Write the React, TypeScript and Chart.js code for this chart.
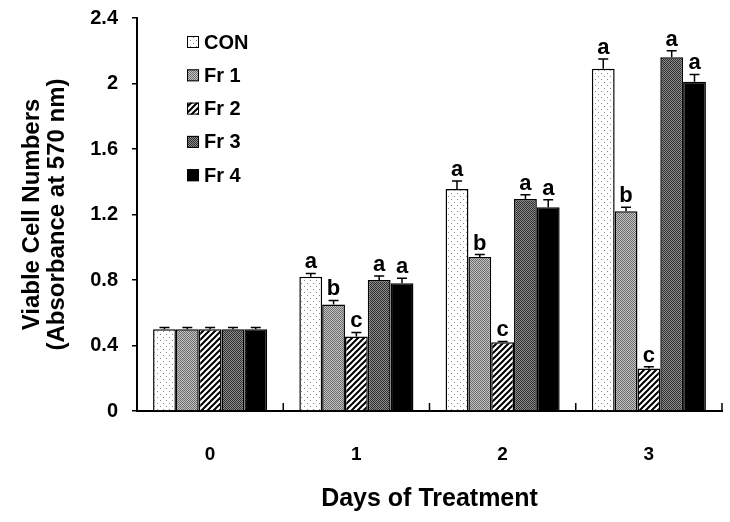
import React, { useEffect, useRef } from "react";
import { Chart, registerables } from "chart.js";

Chart.register(...registerables);

const categories = ["0", "1", "2", "3"];
const seriesNames = ["CON", "Fr 1", "Fr 2", "Fr 3", "Fr 4"];

const conValues = [0.5, 0.82, 1.355, 2.09];
const fr1Values = [0.5, 0.65, 0.94, 1.22];
const fr2Values = [0.5, 0.455, 0.42, 0.26];
const fr3Values = [0.5, 0.8, 1.295, 2.16];
const fr4Values = [0.5, 0.78, 1.245, 2.01];

const conErrors = [0.01, 0.02, 0.05, 0.06];
const fr1Errors = [0.01, 0.025, 0.015, 0.025];
const fr2Errors = [0.01, 0.025, 0.005, 0.01];
const fr3Errors = [0.01, 0.025, 0.025, 0.04];
const fr4Errors = [0.01, 0.03, 0.045, 0.045];

const conLetters = ["", "a", "a", "a"];
const fr1Letters = ["", "b", "b", "b"];
const fr2Letters = ["", "c", "c", "c"];
const fr3Letters = ["", "a", "a", "a"];
const fr4Letters = ["", "a", "a", "a"];

const yTickLabels = ["0", "0.4", "0.8", "1.2", "1.6", "2", "2.4"];
const yTitleLines = ["Viable Cell Numbers", "(Absorbance at 570 nm)"];
const xTitle = "Days of Treatment";

const FONT = "'Liberation Sans', Arial, Helvetica, sans-serif";

function makePattern(kind: string): CanvasPattern | string {
  const c = document.createElement("canvas");
  const ctx = c.getContext("2d")!;
  if (kind === "dots") {
    c.width = 6;
    c.height = 6;
    ctx.fillStyle = "#ffffff";
    ctx.fillRect(0, 0, 6, 6);
    ctx.fillStyle = "#8a8a8a";
    ctx.fillRect(1, 1, 1, 1);
    ctx.fillRect(4, 4, 1, 1);
  } else if (kind === "light") {
    c.width = 2;
    c.height = 2;
    ctx.fillStyle = "#c4c4c4";
    ctx.fillRect(0, 0, 2, 2);
    ctx.fillStyle = "#6c6c6c";
    ctx.fillRect(0, 0, 1, 1);
    ctx.fillRect(1, 1, 1, 1);
  } else if (kind === "hatch") {
    const s = 6;
    c.width = s;
    c.height = s;
    ctx.fillStyle = "#ffffff";
    ctx.fillRect(0, 0, s, s);
    ctx.strokeStyle = "#000000";
    ctx.lineWidth = 2;
    ctx.beginPath();
    ctx.moveTo(-1, s + 1);
    ctx.lineTo(s + 1, -1);
    ctx.moveTo(-1, 1);
    ctx.lineTo(1, -1);
    ctx.moveTo(s - 1, s + 1);
    ctx.lineTo(s + 1, s - 1);
    ctx.stroke();
  } else if (kind === "dark") {
    c.width = 2;
    c.height = 2;
    ctx.fillStyle = "#8c8c8c";
    ctx.fillRect(0, 0, 2, 2);
    ctx.fillStyle = "#2e2e2e";
    ctx.fillRect(0, 0, 1, 1);
    ctx.fillRect(1, 1, 1, 1);
  } else {
    return "#000000";
  }
  return ctx.createPattern(c, "repeat")!;
}

export default function App() {
  const ref = useRef<HTMLCanvasElement | null>(null);

  useEffect(() => {
    if (!ref.current) return;
    const fills = ["dots", "light", "hatch", "dark", "solid"].map(makePattern);
    const values = [conValues, fr1Values, fr2Values, fr3Values, fr4Values];
    const errors = [conErrors, fr1Errors, fr2Errors, fr3Errors, fr4Errors];
    const letters = [conLetters, fr1Letters, fr2Letters, fr3Letters, fr4Letters];

    const extrasPlugin = {
      id: "extras",
      afterDatasetsDraw(chart: any) {
        const ctx = chart.ctx;
        const yScale = chart.scales.y;
        const xScale = chart.scales.x;
        const area = chart.chartArea;
        ctx.save();
        chart.data.datasets.forEach((ds: any, i: number) => {
          const meta = chart.getDatasetMeta(i);
          meta.data.forEach((el: any, j: number) => {
            const v = values[i][j];
            const e = errors[i][j];
            const yTop = yScale.getPixelForValue(v + e);
            const yBar = yScale.getPixelForValue(v);
            ctx.strokeStyle = "#000";
            ctx.lineWidth = 1.5;
            ctx.beginPath();
            ctx.moveTo(el.x, yBar);
            ctx.lineTo(el.x, yTop);
            ctx.moveTo(el.x - 5, yTop);
            ctx.lineTo(el.x + 5, yTop);
            ctx.stroke();
            const t = letters[i][j];
            if (t) {
              ctx.fillStyle = "#000";
              ctx.font = `bold 22px ${FONT}`;
              ctx.textAlign = "center";
              ctx.textBaseline = "alphabetic";
              ctx.fillText(t, el.x, yTop - 5);
            }
          });
        });
        const half = (xScale.getPixelForValue(1) - xScale.getPixelForValue(0)) / 2;
        ctx.strokeStyle = "#000";
        ctx.lineWidth = 1.5;
        ctx.beginPath();
        categories.forEach((_, k) => {
          const bx = xScale.getPixelForValue(k) + half;
          ctx.moveTo(bx, area.bottom);
          ctx.lineTo(bx, area.bottom - 8);
        });
        ctx.stroke();
        const lx = area.left + 50;
        chart.data.datasets.forEach((ds: any, i: number) => {
          const cy = area.top + 24 + i * 33.3;
          ctx.fillStyle = ds.backgroundColor;
          ctx.fillRect(lx, cy - 6, 12, 12);
          ctx.strokeStyle = "#000";
          ctx.lineWidth = 1;
          ctx.strokeRect(lx + 0.5, cy - 5.5, 11, 11);
          ctx.fillStyle = "#000";
          ctx.font = `bold 20px ${FONT}`;
          ctx.textAlign = "left";
          ctx.textBaseline = "middle";
          ctx.fillText(ds.label, lx + 17, cy + 1);
        });
        ctx.restore();
      },
    };

    const chart = new Chart(ref.current, {
      type: "bar",
      data: {
        labels: categories,
        datasets: seriesNames.map((name, i) => ({
          label: name,
          data: values[i],
          backgroundColor: fills[i] as any,
          borderColor: "#000",
          borderWidth: 1.5,
          categoryPercentage: 0.78,
          barPercentage: 1,
        })),
      },
      options: {
        responsive: false,
        animation: false,
        devicePixelRatio: 1,
        layout: { padding: { top: 18, right: 8, left: 0, bottom: 0 } },
        plugins: {
          legend: { display: false },
          tooltip: { enabled: false },
        },
        scales: {
          x: {
            grid: { display: false },
            border: { display: true, color: "#000", width: 2 },
            ticks: {
              color: "#000",
              padding: 24,
              font: { family: FONT, size: 19, weight: "bold" },
            },
            title: {
              display: true,
              text: xTitle,
              color: "#000",
              font: { family: FONT, size: 25, weight: "bold" },
              padding: { top: 0, bottom: 8 },
            },
            afterFit: (scale: any) => {
              scale.height = 111;
              scale.paddingLeft = 0;
              scale.paddingRight = 0;
            },
          },
          y: {
            min: 0,
            max: 2.4,
            ticks: {
              stepSize: 0.4,
              color: "#000",
              padding: 14,
              font: { family: FONT, size: 20, weight: "bold" },
              callback: (v: any) => yTickLabels[Math.round(Number(v) / 0.4)] ?? "",
            },
            grid: {
              display: true,
              drawOnChartArea: false,
              drawTicks: true,
              tickLength: 5,
              color: "#000",
              lineWidth: 1.5,
            },
            border: { display: true, color: "#000", width: 2 },
            title: {
              display: true,
              text: yTitleLines,
              color: "#000",
              font: { family: FONT, size: 24, weight: "bold", lineHeight: 25 / 24 },
              padding: { top: 20, bottom: 0 },
            },
            afterFit: (scale: any) => {
              scale.width = 137;
              scale.paddingTop = 0;
              scale.paddingBottom = 0;
            },
          },
        },
      },
      plugins: [extrasPlugin],
    });
    return () => chart.destroy();
  }, []);

  return (
    <div style={{ position: "absolute", left: 0, top: 0, width: 730, height: 522, background: "#fff" }}>
      <canvas ref={ref} width={730} height={522} style={{ display: "block" }} />
    </div>
  );
}
